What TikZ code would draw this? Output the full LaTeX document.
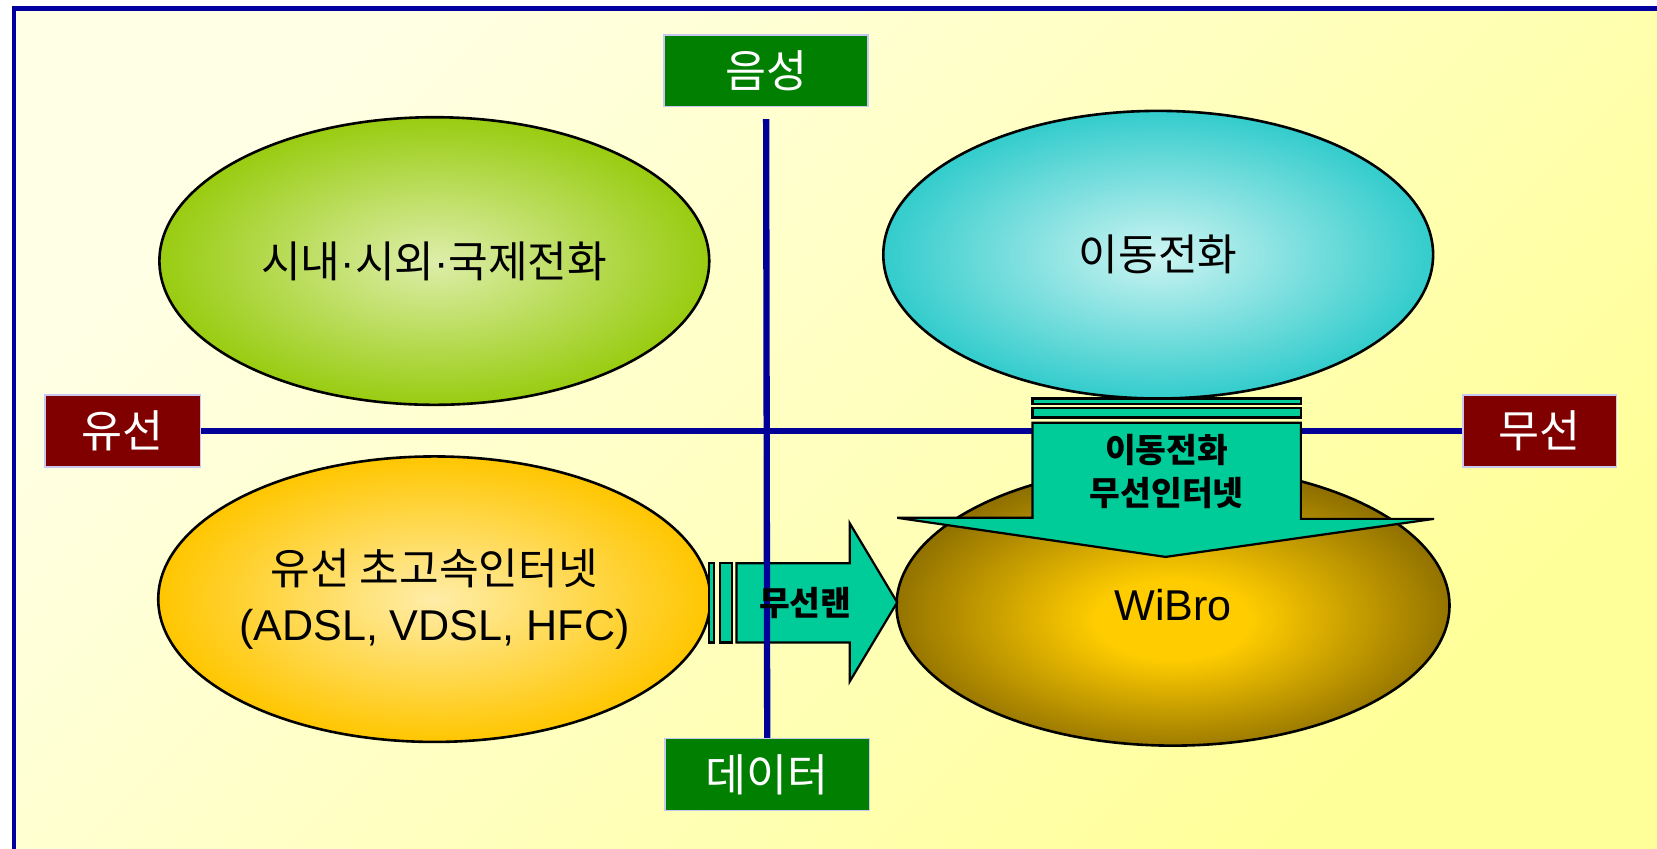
\documentclass[tikz,border=0pt]{standalone}
\usepackage{fontspec}
\setmainfont{Liberation Sans}
\newfontfamily\krfont{Noto Sans CJK KR}
\usepackage{tikz}
\usetikzlibrary{shapes.geometric, positioning, calc}

\definecolor{frameBlue}{HTML}{0000A0}
\definecolor{axisBlue}{HTML}{000099}
\definecolor{bgLight}{HTML}{FFFFE6}
\definecolor{bgDeep}{HTML}{FFFF99}
\definecolor{labelGreen}{HTML}{007F00}
\definecolor{labelRed}{HTML}{800000}
\definecolor{edgeLilac}{HTML}{C8C8F0}
\definecolor{limeOut}{HTML}{99CC11}
\definecolor{limeIn}{HTML}{DDEEAA}
\definecolor{cyanOut}{HTML}{33CCCC}
\definecolor{cyanIn}{HTML}{CCF4F2}
\definecolor{goldOut}{HTML}{FFC600}
\definecolor{goldIn}{HTML}{FFEDA8}
\definecolor{wibroOut}{HTML}{6B5200}
\definecolor{wibroIn}{HTML}{FFCC00}
\definecolor{arrowTeal}{HTML}{00CC99}

\pgfdeclareradialshading{wibroGlow}{\pgfpoint{0bp}{-3bp}}{color(0bp)=(wibroIn); color(7bp)=(wibroIn); color(32bp)=(wibroOut); color(50bp)=(wibroOut)}

\begin{document}
\begin{tikzpicture}[x=0.01cm, y=-0.01cm,
    axisbox/.style={rectangle, draw=edgeLilac, line width=0.4pt, text=white,
        font=\krfont\fontsize{12}{14}\selectfont,
        minimum width=1.93cm, minimum height=0.68cm, inner sep=0pt},
    oval/.style={ellipse, draw=black, line width=0.7pt, inner sep=0pt,
        minimum width=5.2cm, minimum height=2.72cm, align=center,
        font=\fontsize{11.6}{12}\selectfont},
    axisline/.style={draw=axisBlue, line width=1.7pt},
    fatarrow/.style={fill=arrowTeal, draw=black, line width=0.6pt, line join=miter},
    arrowtext/.style={font=\krfont\bfseries\fontsize{9}{11.5}\selectfont, align=center}
]
    % Page and frame
    \useasboundingbox (0,0) rectangle (1568,803);
    \fill[white] (0,0) rectangle (1568,803);
    \shade[top color=bgLight, bottom color=bgDeep, shading angle=45] (13,8) rectangle (1568,803);
    \draw[frameBlue, line width=1.2pt] (13,803) -- (13,8) -- (1568,8);

    % Axis labels
    \node[axisbox, fill=labelGreen] (voiceBox) at (725,67) {음성};
    \node[axisbox, fill=labelGreen] (dataBox) at (726,733) {데이터};
    \node[axisbox, fill=labelRed, minimum width=1.47cm] (wiredBox) at (116,408) {유선};
    \node[axisbox, fill=labelRed, minimum width=1.45cm] (wirelessBox) at (1457,408) {무선};

    % Horizontal axis
    \draw[axisline] (wiredBox.east) -- (wirelessBox.west);

    % Service ovals
    \node[oval, inner color=limeIn, outer color=limeOut] (phoneOval) at (411,247)
        {{\krfont 시내}·{\krfont 시외}·{\krfont 국제전화}};
    \node[oval, inner color=cyanIn, outer color=cyanOut] (mobileOval) at (1096,241) {\krfont 이동전화};
    \node[oval, inner color=goldIn, outer color=goldOut, minimum height=2.7cm] (broadbandOval) at (411,567)
        {{\krfont 유선 초고속인터넷}\\[0.1cm](ADSL, VDSL, HFC)};
    \node[oval, shade, shading=wibroGlow, minimum width=5.23cm, minimum height=2.65cm] (wibroOval) at (1110,573) {WiBro};

    % Striped arrow down
    \draw[fatarrow] (977,377) rectangle (1231,382);
    \draw[fatarrow] (977,386) rectangle (1231,395);
    \draw[fatarrow] (977,400) -- (977,490) -- (849,490) -- (1103,527) -- (1357,491) -- (1231,491) -- (1231,400) -- cycle;
    \node[arrowtext] (mobileNote) at (1104,446) {이동전화\\무선인터넷};

    % Striped arrow right
    \draw[fatarrow] (671,533) rectangle (676,608);
    \draw[fatarrow] (681,533) rectangle (693,608);
    \draw[fatarrow] (697,533) -- (804,533) -- (804,495) -- (849,570) -- (804,645) -- (804,608) -- (697,608) -- cycle;

    % Vertical axis
    \draw[axisline] ([yshift=-0.11cm]voiceBox.south) -- (dataBox.north);
    \node[arrowtext] (lanNote) at (762,571) {무선랜};
\end{tikzpicture}
\end{document}
